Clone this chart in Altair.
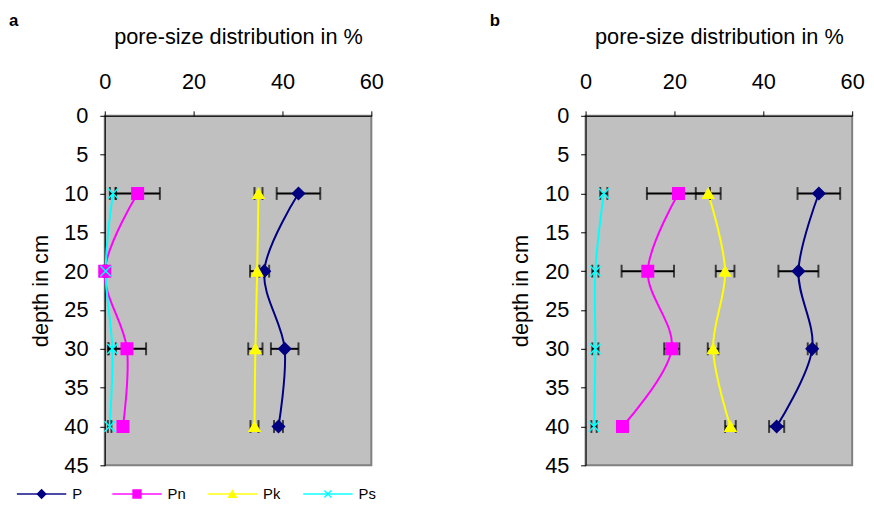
import altair as alt
import pandas as pd

# ---- data ----
depths = [10, 20, 30, 40]
series = ["P", "Pn", "Pk", "Ps"]
colors = ["#000080", "#FF00FF", "#FFFF00", "#00FFFF"]
panel_labels = ["a", "b"]

# panel a
a_P = [43.6, 35.9, 40.5, 39.1]
a_P_err = [4.9, 1.1, 3.1, 1.0]
a_Pn = [7.4, 0.0, 5.0, 4.1]
a_Pn_err = [5.0, 0.3, 4.3, 0.3]
a_Pk = [34.6, 34.3, 33.9, 33.7]
a_Pk_err = [0.9, 1.6, 1.6, 0.9]
a_Ps = [1.85, 0.2, 1.7, 1.1]
a_Ps_err = [0.7, 0.3, 0.8, 0.4]

# panel b
b_P = [52.5, 47.9, 51.0, 43.0]
b_P_err = [4.8, 4.5, 1.0, 1.7]
b_Pn = [20.9, 14.0, 19.4, 8.3]
b_Pn_err = [7.1, 5.9, 1.7, 1.2]
b_Pk = [27.6, 31.4, 28.7, 32.6]
b_Pk_err = [2.8, 2.1, 1.2, 1.2]
b_Ps = [4.1, 2.2, 2.2, 1.9]
b_Ps_err = [0.8, 0.7, 0.7, 0.6]

x_ticks = [0, 20, 40, 60]
y_ticks = [0, 5, 10, 15, 20, 25, 30, 35, 40, 45]

FONT = "Liberation Sans"
shapes = ["diamond", "square", "triangle-up", "M-1,-1L1,1M-1,1L1,-1"]


def make_df(vals, errs):
    rows = []
    for s, v, e in zip(series, vals, errs):
        for d, vi, ei in zip(depths, v, e):
            rows.append({"series": s, "depth": d, "value": vi,
                         "lo": vi - ei, "hi": vi + ei})
    return pd.DataFrame(rows)


col = alt.Color("series:N", scale=alt.Scale(domain=series, range=colors), legend=None)
strk = alt.Stroke("series:N", scale=alt.Scale(domain=series, range=colors), legend=None)
shp = alt.Shape("series:N", scale=alt.Scale(domain=series, range=shapes), legend=None)


def panel(df, label):
    xaxis = alt.Axis(orient="top", values=x_ticks, title="pore-size distribution in %",
                     labelFlush=False, labelPadding=18, titlePadding=22, grid=False)
    yaxis = alt.Axis(values=y_ticks, title="depth in cm", labelPadding=12,
                     titlePadding=12, grid=False)
    xs = alt.Scale(domain=[0, 60], nice=False, zero=False)
    ys = alt.Scale(domain=[0, 45], nice=False, reverse=True, zero=False)
    base = alt.Chart(df)
    y = alt.Y("depth:Q", scale=ys, axis=yaxis)

    rules = base.mark_rule(color="black", strokeWidth=2).encode(
        x=alt.X("lo:Q", scale=xs, axis=xaxis), x2="hi:Q", y=y)
    caps = base.transform_fold(["lo", "hi"], as_=["end", "xv"]).mark_tick(
        orient="vertical", color="black", thickness=2, size=13).encode(
        x=alt.X("xv:Q", scale=xs, axis=xaxis), y=y)
    lines = base.mark_line(interpolate="catmull-rom", strokeWidth=2).encode(
        x=alt.X("value:Q", scale=xs, axis=xaxis), y=y, color=col,
        detail="series:N", order=alt.Order("depth:Q"))
    pts = base.mark_point(filled=True, opacity=1, strokeWidth=1.5).encode(
        x=alt.X("value:Q", scale=xs, axis=xaxis), y=y, color=col, stroke=strk, shape=shp,
        size=alt.Size("series:N", scale=alt.Scale(domain=series, range=[150, 110, 150, 130]),
                      legend=None))
    tag = alt.Chart(pd.DataFrame({"label": [label]})).mark_text(
        align="left", baseline="middle", fontSize=17, fontWeight="bold", font=FONT,
        color="black").encode(x=alt.value(-97), y=alt.value(-96), text="label:N")
    return alt.layer(rules, lines, caps, pts, tag)


# legend (drawn under panel a, positions from a point scale)
leg_df = pd.DataFrame({"series": series})
lx = alt.X("series:N", scale=alt.Scale(type="point", domain=series, range=[0, 290], padding=0),
           axis=None)
LY = 383
lbase = alt.Chart(leg_df)
ltick = lbase.mark_tick(orient="horizontal", size=50, thickness=2, xOffset=-64).encode(
    x=lx, y=alt.value(LY), color=col)
lpts = lbase.mark_point(filled=True, opacity=1, strokeWidth=1.5, xOffset=-64).encode(
    x=lx, y=alt.value(LY), color=col, stroke=strk, shape=shp,
    size=alt.Size("series:N", scale=alt.Scale(domain=series, range=[70, 50, 70, 60]), legend=None))
ltxt = lbase.mark_text(align="left", baseline="middle", dx=31 - 64, fontSize=15, font=FONT,
                       color="black").encode(x=lx, y=alt.value(LY), text="series:N")
legend = alt.layer(ltick, lpts, ltxt)

pa_main = panel(make_df([a_P, a_Pn, a_Pk, a_Ps], [a_P_err, a_Pn_err, a_Pk_err, a_Ps_err]),
                panel_labels[0])
pb_main = panel(make_df([b_P, b_Pn, b_Pk, b_Ps], [b_P_err, b_Pn_err, b_Pk_err, b_Ps_err]),
                panel_labels[1])

pa = alt.layer(pa_main, legend).resolve_scale(x="independent", size="independent").properties(
    width=270, height=354)
pb = pb_main.properties(width=270, height=354)

chart = alt.hconcat(pa, pb, spacing=105).properties(
    padding={"left": 0, "top": 0, "right": 0, "bottom": 0}
).configure_view(
    fill="#C0C0C0", stroke="#808080", strokeWidth=2
).configure_axis(
    labelFont=FONT, titleFont=FONT, labelFontSize=22, titleFontSize=22,
    titleFontWeight="normal", labelColor="black", titleColor="black",
    domainColor="black", tickColor="black", tickSize=5, domainWidth=1, tickWidth=1
)

chart.save("out.html", embed_options={"renderer": "svg", "actions": False})
